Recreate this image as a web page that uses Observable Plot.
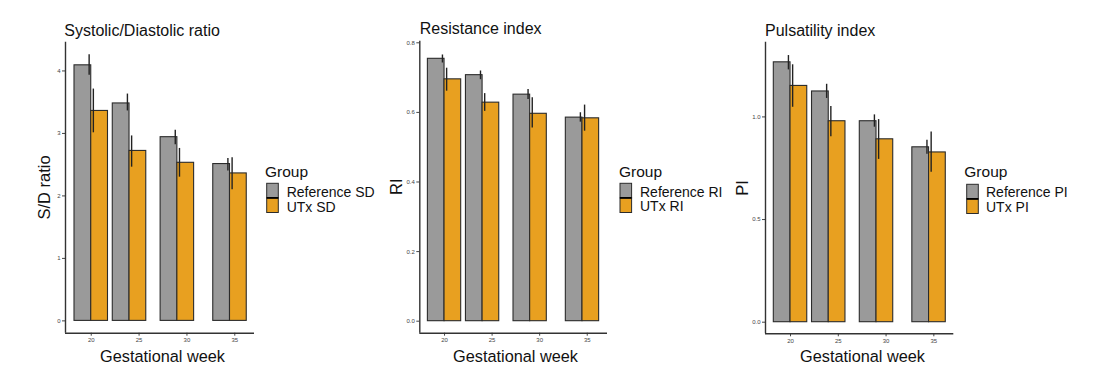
<!DOCTYPE html>
<html><head><meta charset="utf-8">
<script src="https://cdn.jsdelivr.net/npm/d3@7"></script>
<script src="https://cdn.jsdelivr.net/npm/@observablehq/plot@0.6"></script>
<style>
body{margin:0;background:#fff;}
#root{position:relative;width:1112px;height:384px;overflow:hidden;font-family:"Liberation Sans",Arial,sans-serif;background:#fff;}
.panel{position:absolute;top:0;}
#overlay{position:absolute;left:0;top:0;pointer-events:none;}
</style></head><body><div id="root"></div>
<script>
// ---- data ----
const weeks = [20, 24, 29, 34.5];
const groups = ["Reference", "UTx"];
const xTicks = [20, 25, 30, 35];

const sdRef   = [4.09, 3.48, 2.94, 2.51];
const sdRefLo = [3.93, 3.36, 2.82, 2.40];
const sdRefHi = [4.26, 3.63, 3.05, 2.60];
const sdUtx   = [3.36, 2.72, 2.53, 2.36];
const sdUtxLo = [3.01, 2.46, 2.30, 2.10];
const sdUtxHi = [3.71, 2.96, 2.76, 2.61];

const riRef   = [0.754, 0.707, 0.651, 0.585];
const riRefLo = [0.742, 0.694, 0.637, 0.572];
const riRefHi = [0.765, 0.719, 0.666, 0.599];
const riUtx   = [0.695, 0.628, 0.596, 0.583];
const riUtxLo = [0.661, 0.603, 0.555, 0.546];
const riUtxHi = [0.727, 0.654, 0.642, 0.621];

const piRef   = [1.266, 1.124, 0.979, 0.852];
const piRefLo = [1.229, 1.090, 0.950, 0.818];
const piRefHi = [1.299, 1.159, 1.010, 0.886];
const piUtx   = [1.151, 0.979, 0.891, 0.827];
const piUtxLo = [1.047, 0.903, 0.793, 0.731];
const piUtxHi = [1.254, 1.051, 0.987, 0.927];

const sdTicks = [0, 1, 2, 3, 4];
const riTicks = [0, 0.2, 0.4, 0.6, 0.8];
const piTicks = [0, 0.5, 1.0];

const titles = ["Systolic/Diastolic ratio", "Resistance index", "Pulsatility index"];
const yLabels = ["S/D ratio", "RI", "PI"];
const legendLabels = [["Reference SD", "UTx SD"], ["Reference RI", "UTx RI"], ["Reference PI", "UTx PI"]];
const xLabel = "Gestational week";
const legendTitle = "Group";

// ---- styles / layout ----
const COLORS = ["#9a9a9a", "#E8A020"];
const BW = 1.75;   // bar width in weeks
const EO = 0.22;   // errorbar dodge offset in weeks

function rowsOf(ref, refLo, refHi, utx, utxLo, utxHi) {
  const r = [];
  weeks.forEach((w, i) => r.push({week: w, group: groups[0], value: ref[i], lo: refLo[i], hi: refHi[i]}));
  weeks.forEach((w, i) => r.push({week: w, group: groups[1], value: utx[i], lo: utxLo[i], hi: utxHi[i]}));
  return r;
}

const panels = [
  {rows: rowsOf(sdRef, sdRefLo, sdRefHi, sdUtx, sdUtxLo, sdUtxHi), ticks: sdTicks, fmt: d3.format("d"),
   left: 0, width: 370, mL: 65, mR: 116, mT: 41.7, mB: 51.3, xDom: [17.31, 37.06], yDom: [-0.197, 4.46]},
  {rows: rowsOf(riRef, riRefLo, riRefHi, riUtx, riUtxLo, riUtxHi), ticks: riTicks, fmt: d3.format(".1f"),
   left: 370, width: 370, mL: 49.3, mR: 133, mT: 40.7, mB: 51.3, xDom: [17.40, 37.13], yDom: [-0.0345, 0.8046]},
  {rows: rowsOf(piRef, piRefLo, piRefHi, piUtx, piUtxLo, piUtxHi), ticks: piTicks, fmt: d3.format(".1f"),
   left: 720, width: 392, mL: 45, mR: 158.7, mT: 41.7, mB: 50.7, xDom: [17.38, 37.09], yDom: [-0.0565, 1.364]}
];

const root = document.getElementById("root");

panels.forEach(p => {
  const chart = Plot.plot({
    width: p.width, height: 384,
    marginLeft: p.mL, marginRight: p.mR, marginTop: p.mT, marginBottom: p.mB,
    style: {fontSize: "6px", color: "#444", fontFamily: "'Liberation Sans', Arial, sans-serif", background: "transparent"},
    x: {domain: p.xDom, ticks: xTicks, tickFormat: d3.format("d"), tickSize: 3, tickPadding: 2, label: null},
    y: {domain: p.yDom, ticks: p.ticks, tickFormat: p.fmt, tickSize: 3, tickPadding: 2, label: null},
    color: {domain: groups, range: COLORS},
    marks: [
      Plot.rectY(p.rows, {
        x1: d => d.group === groups[0] ? d.week - BW : d.week,
        x2: d => d.group === groups[0] ? d.week : d.week + BW,
        y: "value", fill: "group", stroke: "#2b2b2b", strokeWidth: 1.1
      }),
      Plot.ruleX(p.rows, {
        x: d => d.week + (d.group === groups[0] ? -EO : EO),
        y1: "lo", y2: "hi", stroke: "#222", strokeWidth: 1.4
      }),
      Plot.ruleY([p.yDom[0]], {stroke: "#333", strokeWidth: 1.4}),
      Plot.ruleX([p.xDom[0]], {stroke: "#333", strokeWidth: 1.4})
    ]
  });
  const wrap = document.createElement("div");
  wrap.className = "panel";
  wrap.style.left = p.left + "px";
  wrap.appendChild(chart);
  root.appendChild(wrap);
});

// ---- overlay text: titles, axis titles, legends ----
const svg = d3.select(root).append("svg").attr("id", "overlay")
  .attr("width", 1112).attr("height", 384)
  .style("font-family", "'Liberation Sans', Arial, sans-serif");

const textPos = [
  {title: [64.3, 36], ylab: [50, 187.5], xlab: [162.5, 361.5], leg: [265, 176.7], sw: [266.7, 183.3], lab: [286.7, 196.7, 211.7]},
  {title: [419.7, 33.5], ylab: [401.7, 186.7], xlab: [515.5, 361.7], leg: [619, 176.7], sw: [620, 183.3], lab: [640, 196.7, 211.2]},
  {title: [765, 36], ylab: [748.3, 188], xlab: [862.5, 362], leg: [964.3, 177.3], sw: [966.7, 184.3], lab: [986, 197.3, 211.7]}
];

textPos.forEach((t, i) => {
  svg.append("text").attr("x", t.title[0]).attr("y", t.title[1])
    .attr("font-size", 16).attr("fill", "#111").text(titles[i]);
  svg.append("text").attr("transform", `translate(${t.ylab[0]},${t.ylab[1]}) rotate(-90)`)
    .attr("text-anchor", "middle").attr("font-size", 16.5).attr("fill", "#111").text(yLabels[i]);
  svg.append("text").attr("x", t.xlab[0]).attr("y", t.xlab[1]).attr("text-anchor", "middle")
    .attr("font-size", 16.3).attr("fill", "#111").text(xLabel);
  svg.append("text").attr("x", t.leg[0]).attr("y", t.leg[1])
    .attr("font-size", 15.5).attr("fill", "#111").text(legendTitle);
  const sw = 11.6, sh = 14.6;
  groups.forEach((g, k) => {
    svg.append("rect").attr("x", t.sw[0]).attr("y", t.sw[1] + k * sh).attr("width", sw).attr("height", sh)
      .attr("fill", COLORS[k]).attr("stroke", "#2b2b2b").attr("stroke-width", 1);
    svg.append("text").attr("x", t.lab[0]).attr("y", t.lab[1 + k])
      .attr("font-size", 14).attr("fill", "#111").text(legendLabels[i][k]);
  });
  svg.append("line").attr("x1", t.sw[0]).attr("x2", t.sw[0] + sw)
    .attr("y1", t.sw[1] + sh).attr("y2", t.sw[1] + sh).attr("stroke", "#000").attr("stroke-width", 1.8);
});
</script>
</body></html>
